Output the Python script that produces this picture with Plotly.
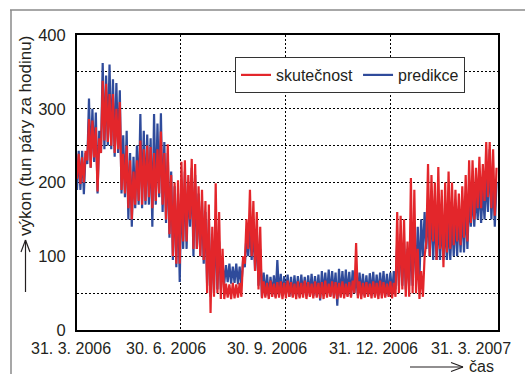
import plotly.graph_objects as go
import pandas as pd

# ---- data: per 3-day interval low / high values ----
start = pd.Timestamp("2006-03-31")
step_days = 3

red_lo = [205,198,200,230,220,234,188,240,257,255,
          250,240,245,190,185,165,150,170,175,170,
          175,180,165,175,185,170,150,130,100,90,
          90,120,120,150,110,110,100,95,50,23,
          45,50,42,42,44,42,43,44,45,90,
          110,100,80,55,
          43,44,42,45,43,44,42,43,45,44,
          42,43,44,42,45,43,44,43,42,44,
          45,43,42,44,43,45,44,50,43,42,
          44,45,43,44,42,43,44,45,43,
          45,50,55,45,45,50,50,42,45,120,
          100,120,95,110,85,105,110,115,120,115,
          125,120,145,150,165,165,175,180,165,155]
red_hi = [239,234,243,286,284,275,260,338,334,320,
          320,300,309,239,250,230,215,230,257,245,
          250,248,240,245,269,240,252,210,200,203,
          228,230,210,232,225,195,190,175,170,140,
          199,160,110,63,62,64,62,64,100,150,
          190,175,160,140,
          66,64,67,63,65,66,64,67,65,63,
          66,64,67,65,63,66,64,65,67,63,
          66,65,64,66,63,65,67,118,66,64,
          65,63,66,64,67,65,63,66,64,
          160,155,150,120,206,190,110,80,100,225,
          210,200,221,190,200,215,200,190,185,195,
          210,230,230,220,235,225,255,255,245,220]
blue_lo = [190,190,184,225,220,228,185,240,245,250,
           245,235,240,185,180,150,140,165,170,165,
           170,170,140,170,180,160,145,125,95,85,
           65,110,110,140,100,110,100,90,60,45,
           50,55,55,63,65,63,64,62,60,85,
           100,95,80,60,
           45,47,46,48,45,47,46,48,45,46,
           47,45,48,46,47,46,47,40,48,47,
           46,47,33,46,48,47,46,50,47,48,
           46,47,48,46,47,48,46,47,48,
           55,60,60,55,60,60,70,70,100,110,
           100,95,95,95,95,95,95,100,100,105,
           105,110,140,140,150,145,150,160,150,140]
blue_hi = [243,243,240,314,300,295,270,362,345,360,
           340,335,325,264,270,240,235,250,293,270,
           265,260,293,280,294,255,240,215,195,185,
           200,215,200,220,210,185,175,160,150,120,
           150,120,90,88,90,86,90,86,95,130,
           140,140,135,110,
           78,75,72,74,95,76,73,75,72,74,
           73,75,72,74,76,73,75,80,78,82,
           80,78,83,80,82,79,81,75,78,76,
           74,77,79,75,78,80,76,78,80,
           120,130,120,110,120,140,140,150,160,165,
           170,160,155,150,145,145,150,155,160,165,
           170,180,185,185,195,190,210,245,205,200]

series_names = ["skutečnost", "predikce"]
ytick_vals = [0, 50, 100, 150, 200, 250, 300, 350, 400]
ytick_text = ["0", "", "100", "", "200", "", "300", "", "400"]
grid_dates = ["2006-06-30", "2006-09-30", "2006-12-31"]
date_labels = ["31. 3. 2006", "30. 6. 2006", "30. 9. 2006", "31. 12. 2006", "31. 3. 2007"]
x_range = ["2006-03-31", "2007-04-03 19:00"]
y_title = "výkon (tun páry za hodinu)"
x_title = "čas"

RED = "#e3262b"
BLUE = "#2f4b9b"
TXT = "#231f20"
FONT = "Liberation Sans, Arial, sans-serif"


def zig(lo, hi):
    xs, ys = [], []
    for i, (a, b) in enumerate(zip(lo, hi)):
        t = start + pd.Timedelta(days=step_days * i)
        xs += [t, t + pd.Timedelta(hours=36)]
        ys += [a, b]
    return xs, ys


bx, by = zig(blue_lo, blue_hi)
rx, ry = zig(red_lo, red_hi)

fig = go.Figure()
fig.add_trace(go.Scatter(x=bx, y=by, mode="lines", name=series_names[1],
                         line=dict(color=BLUE, width=2.2), legendrank=2))
fig.add_trace(go.Scatter(x=rx, y=ry, mode="lines", name=series_names[0],
                         line=dict(color=RED, width=2.2), legendrank=1))

L, R, T, B = 77, 498, 35, 330
W, H = 525, 374


def px(x):
    return (x - L) / (R - L)


def py(y):
    return (B - y) / (B - T)


fig.update_layout(
    width=W, height=H,
    margin=dict(l=L, r=W - R, t=T, b=H - B),
    paper_bgcolor="white", plot_bgcolor="white",
    font=dict(family=FONT, size=16, color=TXT),
    showlegend=True,
    legend=dict(x=px(235), y=py(57), xanchor="left", yanchor="top",
                orientation="h", bgcolor="white", bordercolor="#333333",
                borderwidth=1, font=dict(size=16, color=TXT),
                itemwidth=30, tracegroupgap=0),
)

fig.update_xaxes(type="date", range=x_range, tickvals=grid_dates,
                 showticklabels=False, ticks="",
                 showgrid=True, gridcolor="black", gridwidth=1.3,
                 griddash="2px,2px",
                 showline=True, linecolor="black", linewidth=2, mirror=True,
                 zeroline=False)
fig.update_yaxes(range=[0, 400], tickvals=ytick_vals, ticktext=ytick_text,
                 ticks="", ticklabelstandoff=6,
                 tickfont=dict(size=16.5, color=TXT),
                 showgrid=True, gridcolor="black", gridwidth=1.3,
                 griddash="2px,2px",
                 showline=True, linecolor="black", linewidth=2, mirror=True,
                 zeroline=False)

label_px = [71, 166, 267, 373, 471]
for lab, xc in zip(date_labels, label_px):
    fig.add_annotation(text=lab, xref="paper", yref="paper", x=px(xc), y=py(348),
                       xanchor="center", yanchor="middle", showarrow=False,
                       font=dict(size=16, color=TXT))

fig.add_annotation(text=y_title, xref="paper", yref="paper", x=px(25), y=py(136),
                   xanchor="center", yanchor="middle", textangle=-90, showarrow=False,
                   font=dict(size=17, color=TXT))
fig.add_annotation(text=x_title, xref="paper", yref="paper", x=px(481), y=py(366),
                   xanchor="center", yanchor="middle", showarrow=False,
                   font=dict(size=16, color=TXT))

shapes = []
def seg(x0, y0, x1, y1, color=TXT, width=1.2):
    shapes.append(dict(type="line", xref="paper", yref="paper",
                       x0=px(x0), y0=py(y0), x1=px(x1), y1=py(y1),
                       line=dict(color=color, width=width)))

# y arrow
seg(25.5, 292, 25.5, 240)
seg(25.5, 240, 21, 252)
seg(25.5, 240, 30, 252)
# x arrow
seg(410, 367, 463, 367)
seg(463, 367, 451, 362.5)
seg(463, 367, 451, 371.5)
# outer frame
seg(10, 10, 525, 10, color="#8a8a8a", width=1.5)
seg(11, 10, 11, 374, color="#8a8a8a", width=1.5)

fig.update_layout(shapes=shapes)

fig.write_html("out.html",
               config={"displayModeBar": False},
               post_script="document.body.style.margin='0';document.body.style.padding='0';")
